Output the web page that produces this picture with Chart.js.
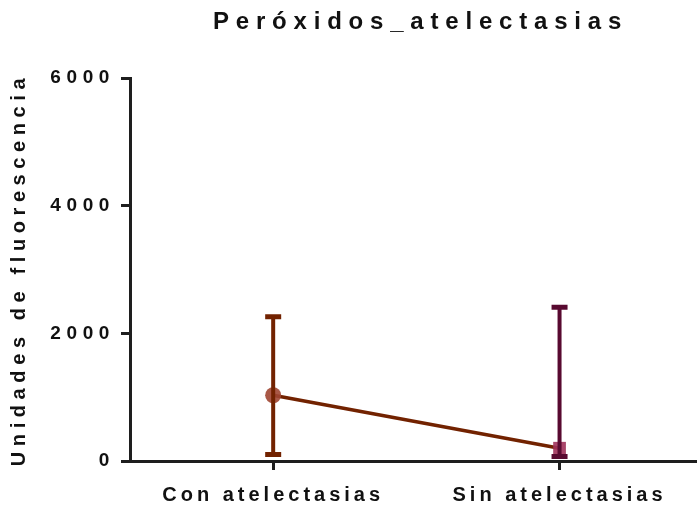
<!DOCTYPE html>
<html>
<head>
<meta charset="utf-8">
<script src="https://cdn.jsdelivr.net/npm/chart.js@4/dist/chart.umd.min.js"></script>
<style>
  html, body { margin: 0; padding: 0; background: #fff; }
  canvas { display: block; }
</style>
</head>
<body>
<canvas id="chart" width="697" height="507"></canvas>
<script>
// Peróxidos_atelectasias - mean with error bars, two groups

const groups = ["Con atelectasias", "Sin atelectasias"];
const groupPos = [1, 3];
const means = [1030, 200];
const errLow = [100, 70];
const errHigh = [2260, 2410];
const yTicks = [0, 2000, 4000, 6000];

const lineColor = "rgb(114,34,0)";
const barColors = ["rgb(114,34,0)", "rgb(88,10,48)"];
const markerColors = ["rgba(160,70,50,0.9)", "rgba(160,50,90,0.9)"];
const axisColor = "#1e1e1e";
const FONT = "'Liberation Sans', Arial, sans-serif";

// ------------------------------
// Letter spacing (the original uses very wide tracking)
// ------------------------------
function withSpacing(obj, method, spacing, dx) {
  if (!obj || obj[method]._spaced) return;
  const orig = obj[method];
  const wrapped = function () {
    const c = this.ctx;
    const prev = c.letterSpacing;
    c.save();
    c.letterSpacing = spacing;
    if (dx) c.translate(dx, 0);
    orig.apply(this, arguments);
    c.restore();
    c.letterSpacing = prev;
  };
  wrapped._spaced = true;
  obj[method] = wrapped;
}

const spacingPlugin = {
  id: "spacing",
  beforeDraw(chart) {
    withSpacing(chart.titleBlock, "draw", "6.8px", 7);
    withSpacing(chart.scales.x, "drawLabels", "4px");
    withSpacing(chart.scales.y, "drawLabels", "5.6px");
    withSpacing(chart.scales.y, "drawTitle", "5.6px");
  }
};

// ------------------------------
// Error bars
// ------------------------------
const errorBarPlugin = {
  id: "errorBars",
  afterDatasetsDraw(chart) {
    const ctx = chart.ctx;
    const x = chart.scales.x;
    const y = chart.scales.y;
    ctx.save();
    groups.forEach((g, i) => {
      const px = x.getPixelForValue(groupPos[i]);
      const top = y.getPixelForValue(errHigh[i]);
      const bot = y.getPixelForValue(errLow[i]);
      ctx.strokeStyle = barColors[i];
      ctx.lineWidth = 4;
      ctx.lineCap = "butt";
      ctx.beginPath();
      ctx.moveTo(px, top);
      ctx.lineTo(px, bot);
      ctx.stroke();
      ctx.lineWidth = 5;
      ctx.beginPath();
      ctx.moveTo(px - 8, top);
      ctx.lineTo(px + 8, top);
      ctx.moveTo(px - 8, bot);
      ctx.lineTo(px + 8, bot);
      ctx.stroke();
    });
    ctx.restore();
  }
};

const ctx = document.getElementById("chart").getContext("2d");

new Chart(ctx, {
  type: "line",
  data: {
    datasets: [{
      data: groupPos.map((p, i) => ({ x: p, y: means[i] })),
      borderColor: lineColor,
      borderWidth: 3.5,
      tension: 0,
      pointStyle: ["circle", "rect"],
      pointRadius: [8, 9],
      pointBackgroundColor: markerColors,
      pointBorderWidth: 0,
      pointHoverRadius: [8, 9]
    }]
  },
  options: {
    responsive: false,
    devicePixelRatio: 1,
    animation: false,
    layout: { padding: 0, autoPadding: false },
    plugins: {
      legend: { display: false },
      tooltip: { enabled: false },
      title: {
        display: true,
        fullSize: false,
        text: "Peróxidos_atelectasias",
        color: "#111",
        font: { family: FONT, size: 24, weight: "bold", lineHeight: 1.2 },
        padding: { top: 7.5, bottom: 41.7 }
      }
    },
    scales: {
      x: {
        type: "linear",
        min: 0,
        max: 3.96,
        afterFit: s => { s.height = 46; s.paddingLeft = 0; s.paddingRight = 0; },
        afterBuildTicks: s => { s.ticks = groupPos.map(v => ({ value: v })); },
        ticks: {
          color: "#111",
          padding: 13,
          font: { family: FONT, size: 20, weight: "bold" },
          callback: v => groups[groupPos.indexOf(v)] || ""
        },
        grid: { drawOnChartArea: false, tickLength: 9, tickWidth: 3, color: axisColor },
        border: { color: axisColor, width: 3 }
      },
      y: {
        min: 0,
        max: 6000,
        afterFit: s => { s.width = 130; s.paddingTop = 0; s.paddingBottom = 0; },
        afterBuildTicks: s => { s.ticks = yTicks.map(v => ({ value: v })); },
        ticks: {
          color: "#111",
          padding: 6,
          font: { family: FONT, size: 19, weight: "bold" },
          callback: v => String(v)
        },
        grid: { drawOnChartArea: false, tickLength: 9, tickWidth: 3, color: axisColor },
        border: { color: axisColor, width: 3 },
        title: {
          display: true,
          text: "Unidades de fluorescencia",
          color: "#111",
          font: { family: FONT, size: 20, weight: "bold" },
          padding: { top: 7, bottom: 0 }
        }
      }
    }
  },
  plugins: [spacingPlugin, errorBarPlugin]
});
</script>
</body>
</html>
